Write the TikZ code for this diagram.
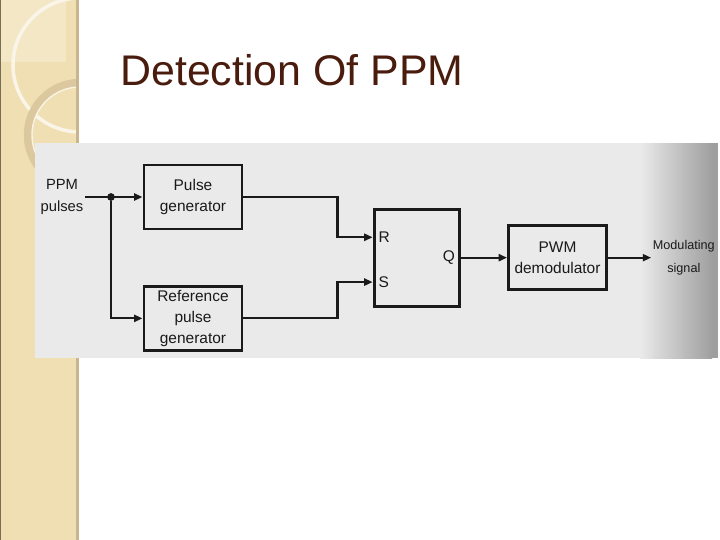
\documentclass[tikz,border=0pt]{standalone}
\usepackage{fontspec}
\setmainfont{Liberation Sans}
\usetikzlibrary{arrows.meta,positioning,calc}
\definecolor{slidebrown}{HTML}{4A1C0E}
\definecolor{stripbeige}{HTML}{F0DFB3}
\definecolor{stripedge}{HTML}{C9B58E}
\definecolor{scanpaper}{HTML}{EBEAEA}
\definecolor{inkblack}{HTML}{1A1A1A}
\tikzset{
  block/.style={
    rectangle,
    draw=inkblack,
    line width=2.1pt,
    align=center,
    minimum width=24.5mm,
    minimum height=16mm,
    inner sep=0pt,
    text=inkblack,
    font=\fontsize{11}{15.4}\selectfont
  },
  tallblock/.style={
    block,
    font=\fontsize{11}{14.8}\selectfont
  },
  flipflop/.style={
    block,
    minimum width=21.25mm,
    minimum height=24.25mm
  },
  port/.style={
    inner sep=0.5pt,
    text=inkblack,
    font=\fontsize{11}{13}\selectfont
  },
  sigtext/.style={
    align=center,
    inner sep=1pt,
    text=inkblack,
    font=\fontsize{10.5}{15.4}\selectfont
  },
  slidetitle/.style={
    inner sep=0pt,
    text=slidebrown,
    font=\fontsize{30.5}{36}\selectfont
  },
  arrow/.style={
    -{Triangle[length=6pt,width=5pt]},
    line width=1.5pt,
    draw=inkblack
  },
  junction/.style={
    circle,
    fill=inkblack,
    inner sep=0pt,
    minimum size=5.5pt
  }
}
\begin{document}
\begin{tikzpicture}[x=0.25mm, y=-0.25mm]
  \useasboundingbox (0,0) rectangle (720,540);
  % slide background and side strip
  \fill[white] (0,0) rectangle (720,540);
  \fill[stripbeige] (0,0) rectangle (78,540);
  \begin{scope}
    \clip (0,0) rectangle (78,540);
    \fill[stripbeige!75!white] (0,0) rectangle (66,62);
    \draw[stripbeige!30!white, line width=2.5pt] (80,65) circle (67);
    \draw[stripedge!55!stripbeige, line width=6pt] (80,135) circle (52);
    \draw[stripbeige!35!white, line width=1pt] (80,135) circle (48);
  \end{scope}
  \draw[stripedge, line width=1.5pt] (77.5,0) -- (77.5,540);
  \draw[stripedge!60!black, line width=0.8pt] (0.5,0) -- (0.5,540);

  \node[slidetitle, anchor=base west] (title) at (120,85) {Detection Of PPM};

  % scanned figure
  \fill[scanpaper] (35,143) rectangle (718,358);
  \shade[left color=scanpaper, right color=gray!75] (640,143) rectangle (712,358);
  \fill[gray!75] (712,143) rectangle (718,358);

  \node[block] (pgen) at (193,197) {Pulse\\generator};
  \node[tallblock, below=13.6mm of pgen] (rgen) {Reference\\pulse\\generator};
  \coordinate (gmid) at ($(pgen.east)!0.5!(rgen.east)$);
  \node[flipflop, right=32.3mm of gmid] (ff) {};
  \node[block, right=11.6mm of ff] (pwm) {PWM\\demodulator};

  \node[sigtext] (in) at (62,197) {PPM\\pulses};
  \node[sigtext, anchor=west, font=\fontsize{9}{16.2}\selectfont] (out) at ([xshift=10.8mm]pwm.east) {Modulating\\signal};

  \node[port, anchor=west] (rport) at ([xshift=1.25mm, yshift=5.1mm]ff.west) {R};
  \node[port, anchor=west] (sport) at ([xshift=1.25mm, yshift=-6.1mm]ff.west) {S};
  \node[port, anchor=east] (qport) at ([xshift=-1.2mm]ff.east) {Q};

  \node[junction] (split) at (111,197) {};

  \draw[arrow] (in.east) -- (pgen.west);
  \draw[arrow] (split) |- (rgen.west);
  \draw[arrow] (pgen.east) -- ++(23.5mm,0) |- ([yshift=5.1mm]ff.west);
  \draw[arrow] (rgen.east) -- ++(23.5mm,0) |- ([yshift=-6.1mm]ff.west);
  \draw[arrow] (ff.east) -- (pwm.west);
  \draw[arrow] (pwm.east) -- (out.west);
\end{tikzpicture}
\end{document}
